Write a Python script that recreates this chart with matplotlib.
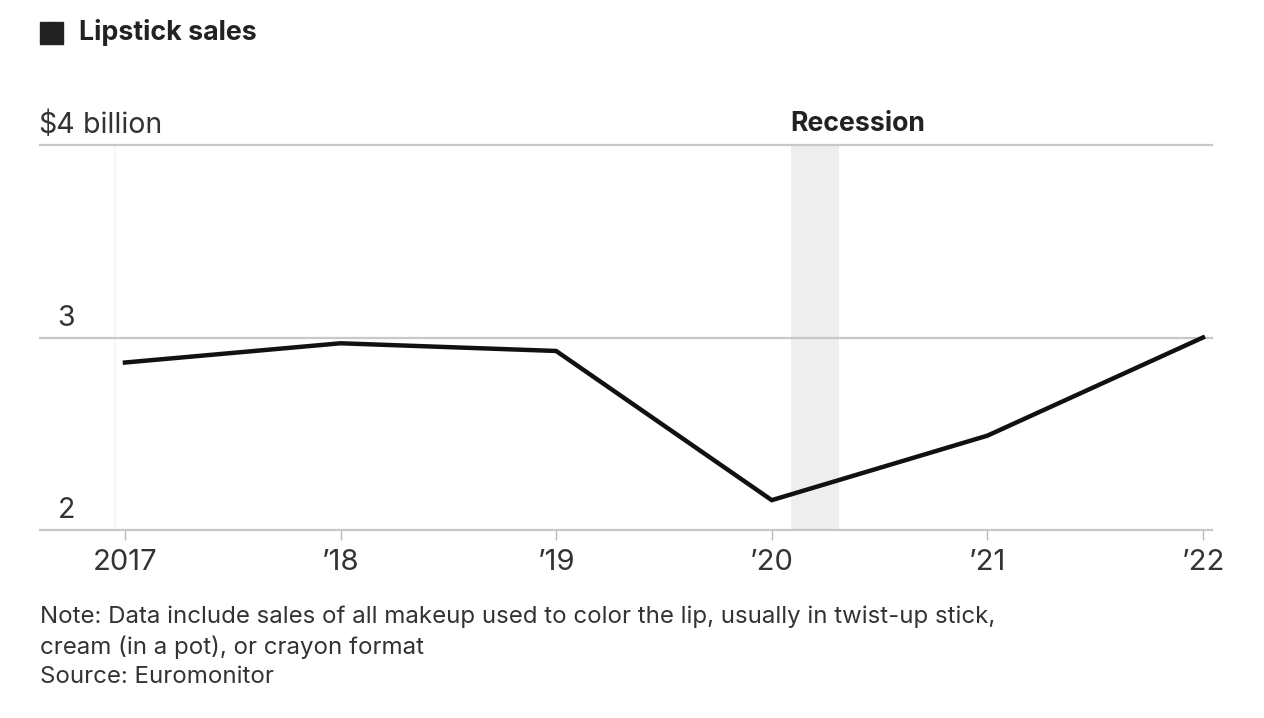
import matplotlib
matplotlib.use("Agg")
import matplotlib.pyplot as plt
from matplotlib.patches import Rectangle
import matplotlib.transforms as mtransforms

years = [2017, 2018, 2019, 2020, 2021, 2022]
sales = [2.87, 2.97, 2.93, 2.155, 2.49, 3.0]
tick_labels = ["2017", "\u201918", "\u201919", "\u201920", "\u201921", "\u201922"]
y_ticks = [2, 3, 4]
y_labels = ["2", "3", "$4"]
recession = (2020.09, 2020.31)

plt.rcParams['font.family'] = ['Inter', 'DejaVu Sans']

W, H = 1264, 718
fig = plt.figure(figsize=(W / 100, H / 100), dpi=100)
fig.patch.set_facecolor('white')

left, right, bottom, top = 40, 1212, 530, 145
ax = fig.add_axes([left / W, 1 - bottom / H, (right - left) / W, (bottom - top) / H])
ax.set_xlim(2016.606, 2022.042)
ax.set_ylim(2, 4)
for s in ['top', 'right', 'left']:
    ax.spines[s].set_visible(False)
ax.spines['bottom'].set_color('#c8c8c8')
ax.spines['bottom'].set_linewidth(1.6)

# gridlines
for yv in y_ticks[1:]:
    ax.axhline(yv, color='#c8c8c8', lw=1.6, zorder=1, clip_on=False)
ax.axvline(years[0] - 0.045, color='#f4f4f4', lw=1.2, zorder=0)

# recession band
ax.axvspan(recession[0], recession[1], color='#eeeeee', zorder=0, lw=0)
ax.text(recession[0] - 0.005, 4.04, "Recession", fontsize=19.2, fontweight='bold',
        color='#222222', ha='left', va='bottom')

# line
ax.plot(years, sales, color='#111111', lw=3.2, solid_joinstyle='miter', zorder=3)

# x ticks
ax.set_xticks(years)
ax.set_xticklabels(tick_labels, fontsize=21, color='#333333')
ax.tick_params(axis='x', length=7, width=1, color='#bbbbbb', pad=7)
ax.set_yticks([])

# y labels, right aligned at the digit position
trans = mtransforms.blended_transform_factory(fig.transFigure, ax.transData)
xr = 75 / W
for yv, lab in zip(y_ticks, y_labels):
    ax.text(xr, yv + 0.03, lab, transform=trans, fontsize=20.5, color='#333333',
            ha='right', va='bottom')
ax.text(xr, 4 + 0.03, " billion", transform=trans, fontsize=20.5, color='#333333',
        ha='left', va='bottom')

# title with square marker
fig.patches.append(Rectangle((40 / W, 1 - 44 / H), 23 / W, 22 / H,
                             transform=fig.transFigure, color='#222222'))
fig.text(79 / W, 1 - 33 / H, "Lipstick sales", fontsize=19.3, fontweight='bold',
         color='#222222', ha='left', va='center')

# notes
notes = ["Note: Data include sales of all makeup used to color the lip, usually in twist-up stick,",
         "cream (in a pot), or crayon format",
         "Source: Euromonitor"]
for i, line in enumerate(notes):
    fig.text(40 / W, 1 - (617 + 30 * i) / H, line, fontsize=17.3, color='#333333',
             ha='left', va='center')

fig.savefig("out.png", dpi=100, facecolor='white')
